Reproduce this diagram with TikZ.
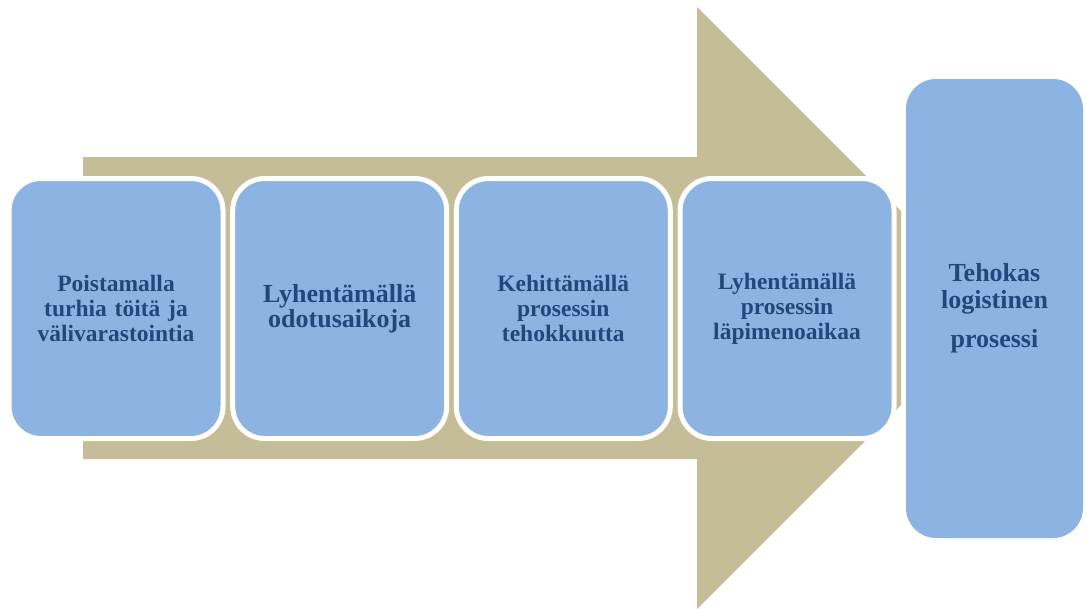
\documentclass[tikz,border=0pt]{standalone}
\usepackage{fontspec}
\setmainfont{Liberation Serif}
\definecolor{boxblue}{HTML}{8DB3E2}
\definecolor{arrowtan}{HTML}{C4BD97}
\definecolor{txtblue}{HTML}{1F497D}
\tikzset{
  stage/.style={rectangle, rounded corners=32pt, fill=boxblue, draw=white,
    line width=5pt, minimum width=214pt, minimum height=260pt, inner sep=0pt,
    text=txtblue, align=center, text width=200pt},
  small/.style={font=\bfseries\fontsize{23.5}{25}\selectfont},
  large/.style={font=\bfseries\fontsize{26}{25}\selectfont},
  goalbox/.style={rectangle, rounded corners=30pt, fill=boxblue,
    minimum width=177pt, minimum height=459pt, inner sep=0pt,
    text=txtblue, align=center, text width=170pt,
    font=\bfseries\fontsize{26}{27}\selectfont}
}
\begin{document}
\begin{tikzpicture}[x=1pt, y=-1pt]
\useasboundingbox (0,0) rectangle (1087,608);
% large background arrow, cut off before the goal box
\begin{scope}
  \clip (0,0) rectangle (901,608);
  \fill[arrowtan] (83,157) -- (697,157) -- (697,7) -- (998,308)
    -- (697,609) -- (697,459) -- (83,459) -- cycle;
\end{scope}
% process steps
\node[stage, small] (s1) at (116,308.5) {Poistamalla\\turhia töitä ja\\välivarastointia};
\node[stage, large] (s2) at (339.7,308.5) {Lyhentämällä\\odotusaikoja};
\node[stage, small] (s3) at (563.3,308.5) {Kehittämällä\\prosessin\\tehokkuutta};
\node[stage, small] (s4) at (787,308.5) {Lyhentämällä\\prosessin\\läpimenoaikaa};
% outcome
\node[goalbox] (goal) at (994.5,308.5) {Tehokas\\logistinen\\[12pt]prosessi};
\end{tikzpicture}
\end{document}
